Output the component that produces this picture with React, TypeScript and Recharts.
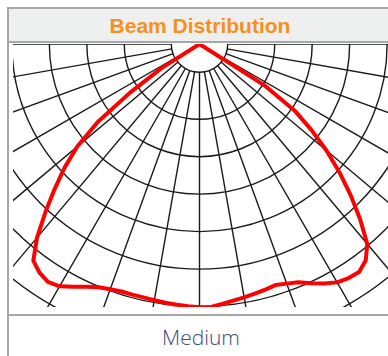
import { RadarChart, Radar, PolarGrid, PolarAngleAxis, PolarRadiusAxis } from "recharts";

// beam angle from nadir (deg), negative = left half
const beamAngles = [
  -60, -57.5, -55, -52.5, -50, -47.5, -45, -42.5, -40, -37.5, -35, -32.5, -30, -27.5, -25, -22.5, -20, -17.5, -15, -12.5,
  -10, -7.5, -5, -2.5, 0, 2.5, 5, 7.5, 10, 12.5, 15, 17.5, 20, 22.5, 25, 27.5, 30, 32.5, 35, 37.5, 40, 42.5, 45, 47.5,
  50, 52.5, 55, 57.5, 60,
];

// luminous intensity
const intensity = [
  0, 60, 113, 171, 213, 244, 273, 304, 337, 364, 372, 376, 373, 365, 357, 351, 348, 346, 346, 346,
  347, 348, 349, 350, 351, 351, 348, 345, 343, 341, 339, 337, 340, 344, 352, 360, 367, 370, 371, 364, 348, 317, 285, 253,
  221, 188, 155, 104, 0,
];

const MAX_VALUE = 450;
const INNER_RING = 37.33; // small circle round the origin
const ringValues = [INNER_RING, 100, 150, 200, 250, 300, 350, 400, 450];
const spokeAngles = [-90, -80, -70, -60, -50, -40, -30, -20, -10, 0, 10, 20, 30, 40, 50, 60, 70, 80, 90];

const STEP = 2.5;
const data = Array.from({ length: 360 / STEP }, (_, i) => {
  const a = i * STEP;
  const signed = a > 180 ? a - 360 : a;
  const idx = beamAngles.indexOf(signed);
  return { angle: String(signed), value: idx >= 0 ? intensity[idx] : 0 };
});

const W = 375;
const H = 263;
const CX = 186.5;
const CY = 0;
const OUTER = 337.5;
const INNER_PX = (INNER_RING / MAX_VALUE) * OUTER;

const border = "#a7a7a7";

export default function App() {
  return (
    <div
      style={{
        position: "absolute",
        left: 0,
        top: 0,
        width: 388,
        height: 356,
        background: "#fff",
        overflow: "hidden",
        fontFamily: "'Liberation Sans', Arial, sans-serif",
      }}
    >
      {/* header */}
      <div
        style={{
          position: "absolute",
          left: 7,
          top: 7,
          width: 400,
          height: 32,
          background: "#eeefef",
          borderTop: `2px solid ${border}`,
          borderLeft: `2px solid ${border}`,
          borderBottom: `2px solid ${border}`,
        }}
      />
      <div
        style={{
          position: "absolute",
          left: 100,
          width: 200,
          top: 12,
          textAlign: "center",
          color: "#f7901e",
          fontSize: 21,
          fontWeight: 700,
          lineHeight: "28px",
        }}
      >
        Beam Distribution
      </div>
      {/* left frame line */}
      <div style={{ position: "absolute", left: 7, top: 43, width: 2, height: 313, background: border }} />

      {/* polar plot */}
      <div style={{ position: "absolute", left: 13, top: 44, width: W, height: H, overflow: "hidden" }}>
        {/* grid: spokes start at the small inner circle */}
        <div style={{ position: "absolute", left: 0, top: 0 }}>
          <RadarChart
            width={W}
            height={H}
            data={data}
            cx={CX}
            cy={CY}
            innerRadius={INNER_PX}
            outerRadius={OUTER}
            margin={{ top: 0, right: 0, bottom: 0, left: 0 }}
          >
            <PolarGrid
              gridType="circle"
              stroke="#1a1a1a"
              strokeWidth={1.4}
              polarAngles={spokeAngles.map((t) => t - 90)}
            />
            <PolarAngleAxis dataKey="angle" tick={false} axisLine={false} />
            <PolarRadiusAxis
              domain={[INNER_RING, MAX_VALUE]}
              ticks={ringValues}
              tick={false}
              axisLine={false}
              allowDataOverflow
            />
          </RadarChart>
        </div>
        {/* beam curve */}
        <div style={{ position: "absolute", left: 0, top: 0 }}>
          <RadarChart
            width={W}
            height={H}
            data={data}
            cx={CX}
            cy={CY}
            outerRadius={OUTER}
            startAngle={-92.5}
            endAngle={267.5}
            margin={{ top: 0, right: 0, bottom: 0, left: 0 }}
          >
            <PolarAngleAxis dataKey="angle" tick={false} axisLine={false} />
            <PolarRadiusAxis domain={[0, MAX_VALUE]} tick={false} axisLine={false} />
            <Radar
              dataKey="value"
              stroke="#ff0000"
              strokeWidth={4}
              fill="none"
              fillOpacity={0}
              strokeLinejoin="round"
              dot={false}
              isAnimationActive={false}
            />
          </RadarChart>
        </div>
      </div>

      {/* divider */}
      <div style={{ position: "absolute", left: 7, top: 314, width: 400, height: 2, background: border }} />
      <div
        style={{
          position: "absolute",
          left: 100,
          width: 202,
          top: 323,
          textAlign: "center",
          color: "#3c4a78",
          fontFamily: "'Open Sans', sans-serif",
          fontSize: 21,
          fontWeight: 300,
          lineHeight: "28px",
        }}
      >
        Medium
      </div>
    </div>
  );
}
